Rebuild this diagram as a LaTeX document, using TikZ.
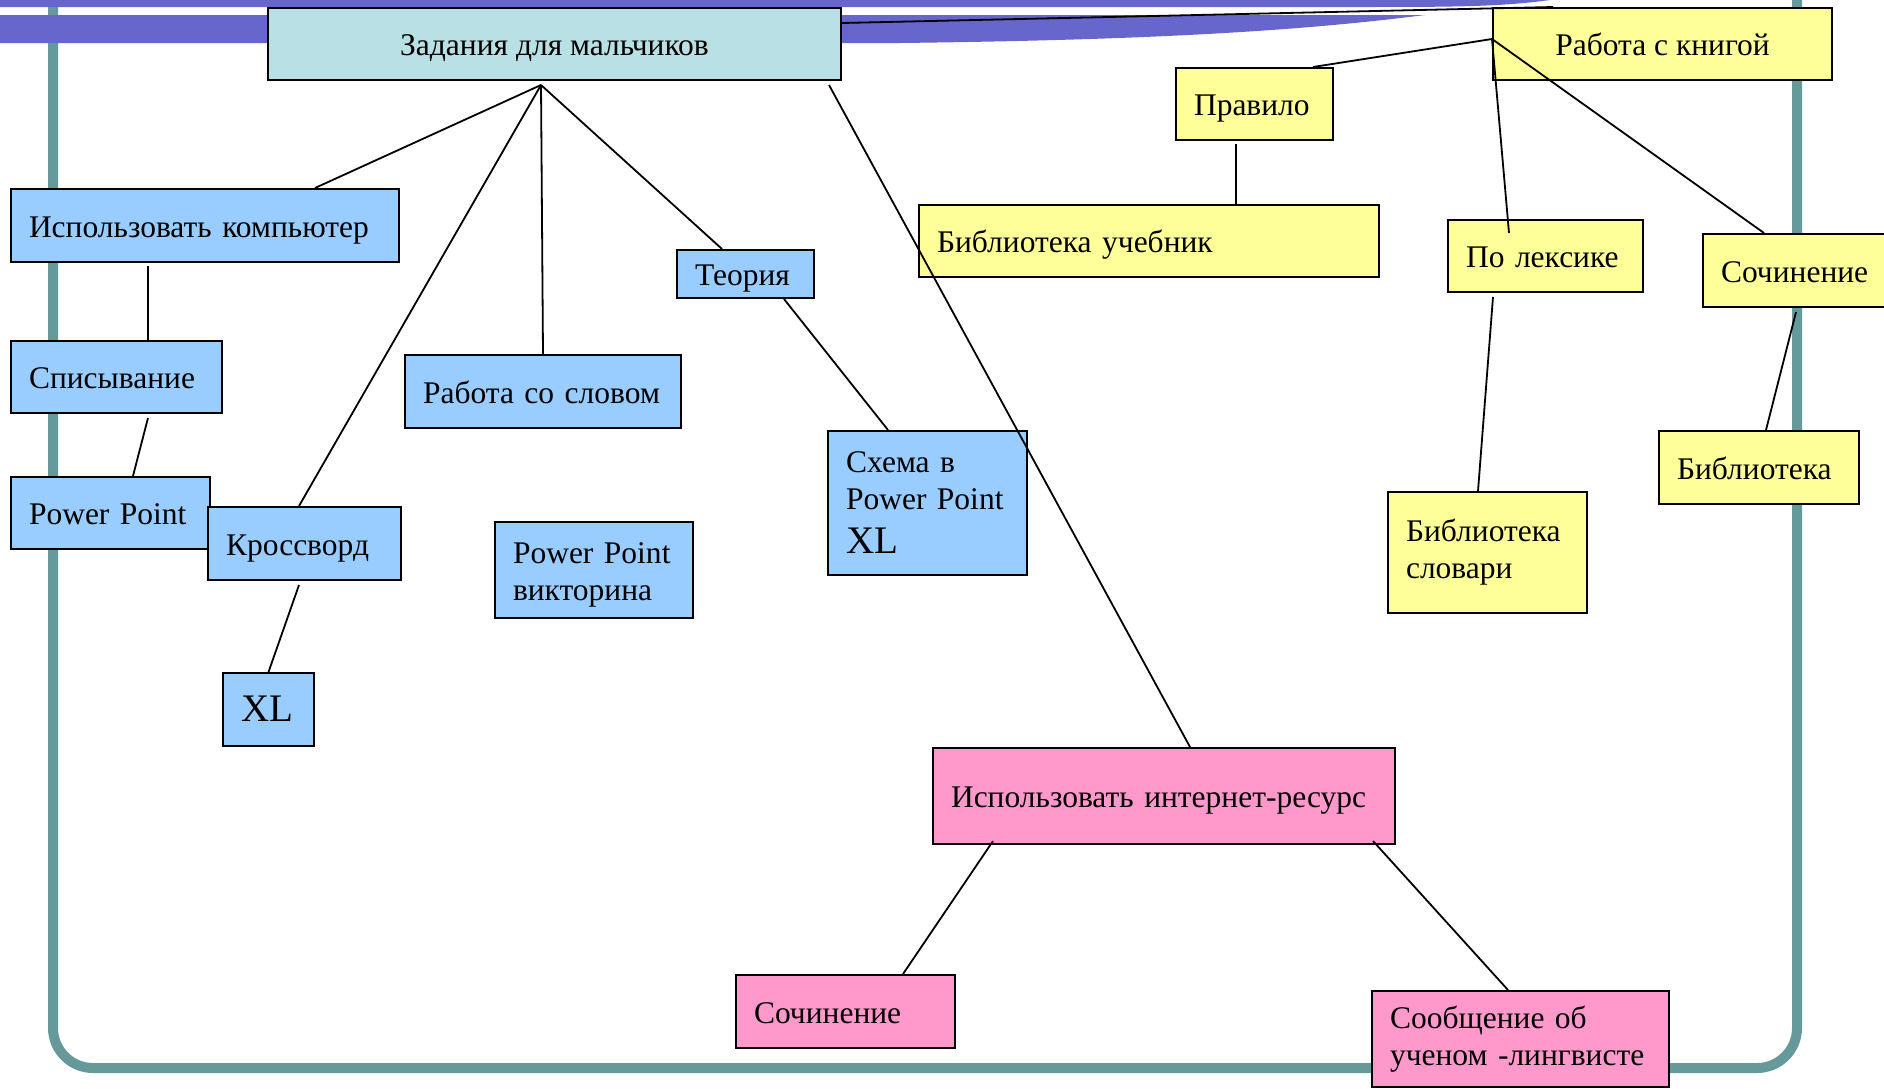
\documentclass[tikz,border=0pt]{standalone}
\usepackage{fontspec}
\setmainfont{Liberation Serif}
\usepackage{xcolor}
\usetikzlibrary{calc, positioning, backgrounds}

\definecolor{bandblue}{HTML}{6666CC}
\definecolor{frameteal}{HTML}{669999}
\definecolor{headcyan}{HTML}{B9E0E4}
\definecolor{boyblue}{HTML}{99CCFF}
\definecolor{bookyellow}{HTML}{FFFF99}
\definecolor{webpink}{HTML}{FF99CC}
\exhyphenpenalty=10000

\begin{document}
\begin{tikzpicture}[x=1pt,y=-1pt,-,
                    box/.style={draw,line width=2pt,anchor=north west,inner xsep=18pt,inner ysep=0pt,align=left,
                                text height=28pt,text depth=5pt,font=\fontsize{31.5}{37}\selectfont},
                    multi/.style={text height={},text depth={}},
                    head node/.style={box,fill=headcyan,align=center}, blue node/.style={box,fill=boyblue},
                    yellow node/.style={box,fill=bookyellow}, pink node/.style={box,fill=webpink}]

  \useasboundingbox (0,0) rectangle (1884,1088);

  % frame and bands
  \draw[frameteal,line width=10pt,rounded corners=40pt] (53,-100) rectangle (1797,1068);
  \fill[bandblue] (0,0) -- (1550,0) .. controls (1500,7) and (1450,7) .. (1350,7) -- (0,7) -- cycle;
  \fill[bandblue] (0,15) -- (1425,15) .. controls (1300,31) and (1150,40) .. (900,43) -- (0,43) -- cycle;

  \node[head node, minimum width=573pt, minimum height=72pt] (task) at (267,7) {Задания для мальчиков};
  \node[yellow node, minimum width=339pt, minimum height=72pt, align=center] (book) at (1492,7) {Работа с книгой};

  \node[yellow node, text width=121pt, minimum height=72pt] (rule) at (1175,67) {Правило};
  \node[yellow node, text width=424pt, minimum height=72pt] (textbook) at (918,204) {Библиотека~учебник};
  \node[yellow node, text width=159pt, minimum height=72pt] (lexis) at (1447,219) {По~лексике};
  \node[yellow node, text width=164pt, minimum height=73pt] (essayY) at (1702,233) {Сочинение};
  \node[yellow node, text width=164pt, minimum height=73pt] (library) at (1658,430) {Библиотека};
  \node[yellow node, multi, text width=163pt, minimum height=121pt] (dict) at (1387,491) {Библиотека\\словари};

  \node[blue node, text width=352pt, minimum height=73pt] (comp) at (10,188) {Использовать~компьютер};
  \node[blue node, text width=175pt, minimum height=72pt] (copying) at (10,340) {Списывание};
  \node[blue node, text width=163pt, minimum height=72pt] (pp) at (10,476) {Power~Point};
  \node[blue node, text width=157pt, minimum height=73pt] (cross) at (207,506) {Кроссворд};
  \node[blue node, text width=55pt, minimum height=73pt, font=\fontsize{39}{44}\selectfont] (xl) at (222,672) {XL};
  \node[blue node, text width=240pt, minimum height=73pt] (word) at (404,354) {Работа~со~словом};
  \node[blue node, multi, text width=162pt, minimum height=96pt] (quiz) at (494,521) {\rule{0pt}{30pt}Power~Point\\викторина};
  \node[blue node, text width=101pt, minimum height=48pt] (theory) at (676,249) {Теория};
  \node[blue node, multi, text width=163pt, minimum height=144pt] (scheme) at (827,430)
    {Схема в\\Power~Point\\[7pt]{\fontsize{39}{44}\selectfont XL}};

  \node[pink node, text width=426pt, minimum height=96pt] (web) at (932,747) {Использовать~интернет-ресурс};
  \node[pink node, text width=183pt, minimum height=73pt] (essayP) at (735,974) {Сочинение};
  \node[pink node, multi, text width=261pt, minimum height=96pt] (report) at (1371,990) {Сообщение об\\ученом~-лингвисте};

  \path[line width=1.8pt]
    ([yshift=21pt]task.east) edge ([xshift=-109.5pt]book.north)
    ([xshift=-13.5pt,yshift=-4pt]task.south) edge ([xshift=110pt]comp.north)
                                             edge ([xshift=-5.5pt]cross.north)
                                             edge (word.north)
                                             edge ([xshift=-23.5pt]theory.north)
    ([xshift=274.5pt,yshift=-4pt]task.south) edge ([xshift=26pt]web.north)
    ([xshift=-57pt,yshift=-3pt]comp.south) edge ([xshift=31.5pt]copying.north)
    ([xshift=31.5pt,yshift=-4pt]copying.south) edge ([xshift=22.5pt]pp.north)
    ([xshift=-5.5pt,yshift=-4pt]cross.south) edge (xl.north)
    ([xshift=38.5pt]theory.south) edge ([xshift=-39.5pt]scheme.north)
    ([xshift=-171pt,yshift=4pt]web.south) edge ([xshift=57.5pt]essayP.north)
    ([xshift=209pt,yshift=4pt]web.south) edge ([xshift=-12.5pt]report.north);

  \path[line width=1.8pt]
    ([yshift=5pt]book.west) edge ([xshift=58.5pt]rule.north)
                            edge ([xshift=-36.5pt,yshift=-14pt]lexis.north)
                            edge ([xshift=-39pt]essayY.north)
    ([xshift=-18.5pt,yshift=-3pt]rule.south) edge ([xshift=87pt]textbook.north)
    ([xshift=-52.5pt,yshift=-4pt]lexis.south) edge ([xshift=-9.5pt]dict.north)
    ([xshift=-7pt,yshift=-4pt]essayY.south) edge ([xshift=7pt]library.north);

\end{tikzpicture}
\end{document}
